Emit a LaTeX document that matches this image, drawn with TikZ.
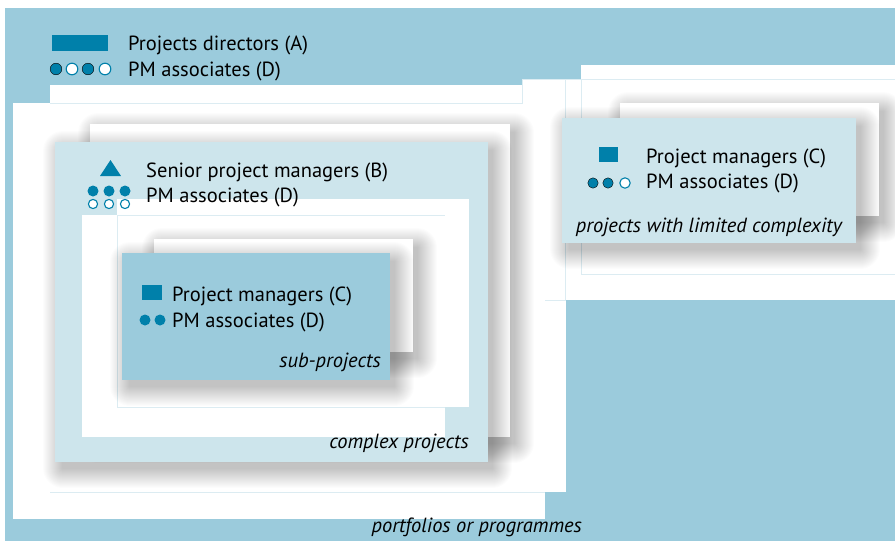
\documentclass[tikz,border=0pt]{standalone}
\usepackage{fontspec}
\setmainfont{PT Sans}
\definecolor{bgblue}{HTML}{9BCBDC}
\definecolor{paleblue}{HTML}{CDE5EC}
\definecolor{iconblue}{HTML}{0080AA}
\definecolor{rimblue}{HTML}{DCECF2}
\newcommand{\sheetshadow}[4]{%
  \foreach \k in {1,...,20}
    \fill[black, opacity=0.012, rounded corners=\k pt] (#1+8-\k,#2+9-\k) rectangle (#3+4+\k,#4+6+\k);}
\tikzset{
  rim/.style={draw=rimblue, line width=0.8pt},
  legend/.style={anchor=base west, inner sep=0pt, font=\fontsize{20.5}{24}\selectfont},
  caption/.style={anchor=base east, inner sep=0pt, font=\fontsize{20.5}{24}\selectfont\itshape},
  fullc/.style={fill=iconblue},
  openc/.style={draw=iconblue, fill=white, line width=1.1pt}
}
\begin{document}
\begin{tikzpicture}[x=1pt,y=-1pt]
    \useasboundingbox (0,0) rectangle (895,541);
    \fill[bgblue] (5,8) rectangle (895,541);

    % white areas inside the portfolio
    \fill[white] (13,103) rectangle (545,519);
    \fill[white] (50,85) rectangle (566,492);
    \fill[white] (522,79) rectangle (895,300);
    \fill[white] (581,65) rectangle (895,274);
    \draw[rim] (50,103) -- (522,103) -- (522,79) -- (895,79);
    \draw[rim] (565,79) -- (565,300) -- (545,300);
    \draw[rim] (581,79) -- (581,274) -- (895,274);
    \draw[rim] (50,492) -- (545,492);

    % projects with limited complexity
    \sheetshadow{620}{103}{879}{216}
    \fill[white] (620,103) rectangle (879,216);
    \sheetshadow{562}{118}{856}{243}
    \fill[paleblue] (562,118) rectangle (856,243);

    % complex projects
    \sheetshadow{90}{124}{510}{437}
    \fill[white] (90,124) rectangle (510,437);
    \sheetshadow{55}{142}{488}{462}
    \fill[paleblue] (55,142) rectangle (488,462);
    \fill[white] (82,215) rectangle (445,437);
    \fill[white] (117,199) rectangle (469,407);
    \draw[rim] (117,215) -- (117,407) -- (445,407);
    \draw[rim] (117,215) -- (445,215);

    % sub-projects
    \sheetshadow{154}{239}{413}{352}
    \fill[white] (154,239) rectangle (413,352);
    \sheetshadow{122}{253}{390}{380}
    \fill[bgblue] (122,253) rectangle (390,380);

    % portfolio legend
    \fill[iconblue] (52,35) rectangle (108,51);
    \foreach \x/\s in {56/fullc,72/openc,88/fullc,105/openc}
        \draw[\s] (\x,69) circle (5.8);
    \node[legend] (dirA) at (128,50) {Projects directors (A)};
    \node[legend] (dirD) at (128,76) {PM associates (D)};

    % complex legend
    \fill[iconblue] (100,176) -- (110.5,160) -- (121,176) -- cycle;
    \foreach \x in {93,109,125} {
        \fill[iconblue] (\x,191) circle (5.5);
        \draw[openc] (\x,204) circle (4.6);
    }
    \node[legend] (seniorB) at (146,177) {Senior project managers (B)};
    \node[legend] (seniorD) at (146,202) {PM associates (D)};

    % sub-projects legend
    \fill[iconblue] (142,285) rectangle (162,300);
    \foreach \x in {145,160} \fill[iconblue] (\x,320) circle (5.5);
    \node[legend] (subC) at (172,301) {Project managers (C)};
    \node[legend] (subD) at (172,327) {PM associates (D)};

    % limited complexity legend
    \fill[iconblue] (599,147) rectangle (618,162);
    \foreach \x/\s in {593/fullc,608/fullc,625/openc}
        \draw[\s] (\x,183) circle (5.2);
    \node[legend] (limC) at (646,163) {Project managers (C)};
    \node[legend] (limD) at (646,188) {PM associates (D)};

    \node[caption] (subcap) at (381,367) {sub-projects};
    \node[caption] (cplxcap) at (469,448) {complex projects};
    \node[caption] (limcap) at (842,232) {projects with limited complexity};
    \node[caption] (portcap) at (582,532) {portfolios or programmes};
\end{tikzpicture}
\end{document}
